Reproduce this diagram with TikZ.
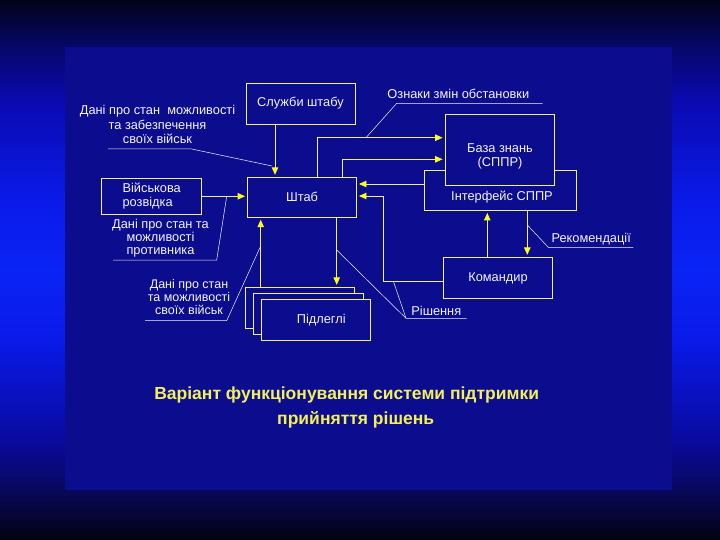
\documentclass[tikz,border=0pt]{standalone}
\usepackage{fontspec}
\setmainfont{Liberation Sans}
\usetikzlibrary{arrows.meta}
\definecolor{bgtop}{HTML}{02021A}
\definecolor{bgtopb}{HTML}{07076A}
\definecolor{bgmidtop}{HTML}{0A0AB0}
\definecolor{bgbrightb}{HTML}{0A1AE8}
\definecolor{bgbright}{HTML}{0A24F5}
\definecolor{bgmidlow}{HTML}{0A0AA0}
\definecolor{bglow}{HTML}{08085A}
\definecolor{bgbot}{HTML}{02020F}
\definecolor{panel}{HTML}{0B0D8E}
\definecolor{boxline}{HTML}{F2F27A}
\definecolor{tipyellow}{HTML}{FFFF1E}
\definecolor{labeltext}{HTML}{F4F4F4}
\definecolor{titleyellow}{HTML}{F4F05A}
\pgfdeclareverticalshading{slidebg}{100bp}{color(0bp)=(bgbot); color(25bp)=(bgbot);
  color(29.6bp)=(bglow); color(34.3bp)=(bgmidlow); color(43.5bp)=(bgbrightb);
  color(50bp)=(bgbright); color(56.5bp)=(bgbrightb); color(65.7bp)=(bgmidtop);
  color(70.6bp)=(bgtopb); color(75bp)=(bgtop); color(100bp)=(bgtop)}

\begin{document}
\begin{tikzpicture}[x=1pt, y=-1pt,
    blk/.style={draw=boxline, line width=0.9pt, fill=panel, text=labeltext,
      font=\fontsize{12.8}{14}\selectfont, inner sep=0pt},
    lbl/.style={text=labeltext, font=\fontsize{12.8}{14}\selectfont, align=center, inner sep=0pt},
    flow/.style={draw=boxline, line width=0.9pt,
      -{Triangle[length=7.5pt, width=6.5pt, color=tipyellow]}, shorten >=2pt},
    lead/.style={draw=labeltext, line width=0.5pt}]
  \useasboundingbox (0,0) rectangle (720,540);
  \shade[shading=slidebg] (0,0) rectangle (720,540);
  \fill[panel] (65,47) rectangle (672,490);

  % blocks
  \node[blk, minimum width=109pt, minimum height=41pt] (sluzhby) at (300.5,103.5) {Служби штабу};
  \node[blk, minimum width=152.5pt, minimum height=40pt] (interfeis) at (500.2,190.5) {};
  \node[blk, minimum width=109.5pt, minimum height=71pt] (baza) at (499.8,150) {};
  \node[lbl] (bazatxt) at (500,156) {База знань\\(СППР)};
  \node[lbl] (interfeistxt) at (502,197) {Інтерфейс СППР};
  \node[blk, minimum width=109pt, minimum height=40pt] (shtab) at (302,197.3) {Штаб};
  \node[blk, minimum width=100pt, minimum height=36pt, align=left] (rozvidka) at (151.7,196.3) {Військова\\розвідка};
  \node[blk, minimum width=109.4pt, minimum height=41.4pt] (komandyr) at (498,278) {Командир};
  \node[blk, minimum width=109.3pt, minimum height=41pt] (pidlegli3) at (299.7,307.8) {};
  \node[blk, minimum width=109.5pt, minimum height=41pt] (pidlegli2) at (308.3,313.8) {};
  \node[blk, minimum width=109.7pt, minimum height=41.4pt] (pidlegli1) at (315.9,320) {};
  \node[lbl] (pidtxt) at (321.3,320) {Підлеглі};

  % lanes and bends
  \coordinate (laneA) at (275,0);
  \coordinate (laneB) at (260.7,0);
  \coordinate (laneC) at (336.7,0);
  \coordinate (laneD) at (317.3,137.7);
  \coordinate (laneE) at (342.7,159.3);
  \coordinate (laneG) at (487.3,0);
  \coordinate (laneH) at (527.3,0);
  \coordinate (rowI) at (0,184);
  \coordinate (kink1) at (383.3,281);
  \coordinate (kink2) at (383.3,196);

  % connectors
  \draw[flow] (sluzhby.south -| laneA) -- (shtab.north -| laneA);
  \draw[flow] (rozvidka.east) -- (rozvidka.east -| shtab.west);
  \draw[flow] (pidlegli3.north -| laneB) -- (shtab.south -| laneB);
  \draw[flow] (shtab.south -| laneC) -- (pidlegli3.north -| laneC);
  \draw[flow] (shtab.north -| laneD) |- (baza.west |- laneD);
  \draw[flow] (shtab.north -| laneE) |- (baza.west |- laneE);
  \draw[flow] (interfeis.west |- rowI) -- (shtab.east |- rowI);
  \draw[flow] (komandyr.west |- kink1) -- (kink1) -- (kink2) -- (shtab.east |- kink2);
  \draw[flow] (komandyr.north -| laneG) -- (interfeis.south -| laneG);
  \draw[flow] (interfeis.south -| laneH) -- (komandyr.north -| laneH);

  % labels with leaders
  \node[lbl, font=\fontsize{12.8}{14.3}\selectfont] (danisvoi) at (157.5,124.5)
    {Дані про стан\ \ можливості\\та забезпечення\\своїх військ};
  \coordinate (u1a) at (108,149);
  \coordinate (u1b) at (191.7,149);
  \coordinate (p1) at (272,166);
  \draw[lead] (u1a) -- (u1b) -- (p1);

  \node[lbl, font=\fontsize{12.8}{13.3}\selectfont] (daniprot) at (160.5,238.3)
    {Дані про стан та\\можливості\\противника};
  \coordinate (u2a) at (113,260);
  \coordinate (u2b) at (216.7,260);
  \coordinate (p2) at (226.7,196.3);
  \draw[lead] (u2a) -- (u2b) -- (p2);

  \node[lbl, font=\fontsize{12.5}{12.9}\selectfont] (danipidl) at (189,297.3)
    {Дані про стан\\та можливості\\своїх військ};
  \coordinate (u3a) at (145,320.7);
  \coordinate (u3b) at (226.7,320.7);
  \coordinate (p3) at (260.7,246);
  \draw[lead] (u3a) -- (u3b) -- (p3);

  \node[lbl] (oznaky) at (458.3,94) {Ознаки змін обстановки};
  \coordinate (u4a) at (542.7,103.3);
  \coordinate (u4b) at (396.7,103.3);
  \coordinate (p4) at (366,137.7);
  \draw[lead] (u4a) -- (u4b) -- (p4);

  \node[lbl] (rishennia) at (436.3,311) {Рішення};
  \coordinate (u5a) at (466.7,318.3);
  \coordinate (u5b) at (406,318.3);
  \coordinate (p5) at (393.3,281);
  \coordinate (p6) at (336.7,250);
  \draw[lead] (u5a) -- (u5b) -- (p5);
  \draw[lead] (u5b) -- (p6);

  \node[lbl] (rekom) at (591.2,239) {Рекомендації};
  \coordinate (u6a) at (633.3,247.3);
  \coordinate (u6b) at (548.3,247.3);
  \coordinate (p7) at (527.3,225);
  \draw[lead] (u6a) -- (u6b) -- (p7);

  % caption
  \node[text=titleyellow, font=\fontsize{17.5}{25}\selectfont\bfseries, align=center, inner sep=0pt] (title)
    at (346.7,407.5) {Варіант функціонування системи підтримки\\\hspace*{18pt}прийняття рішень};
\end{tikzpicture}
\end{document}
